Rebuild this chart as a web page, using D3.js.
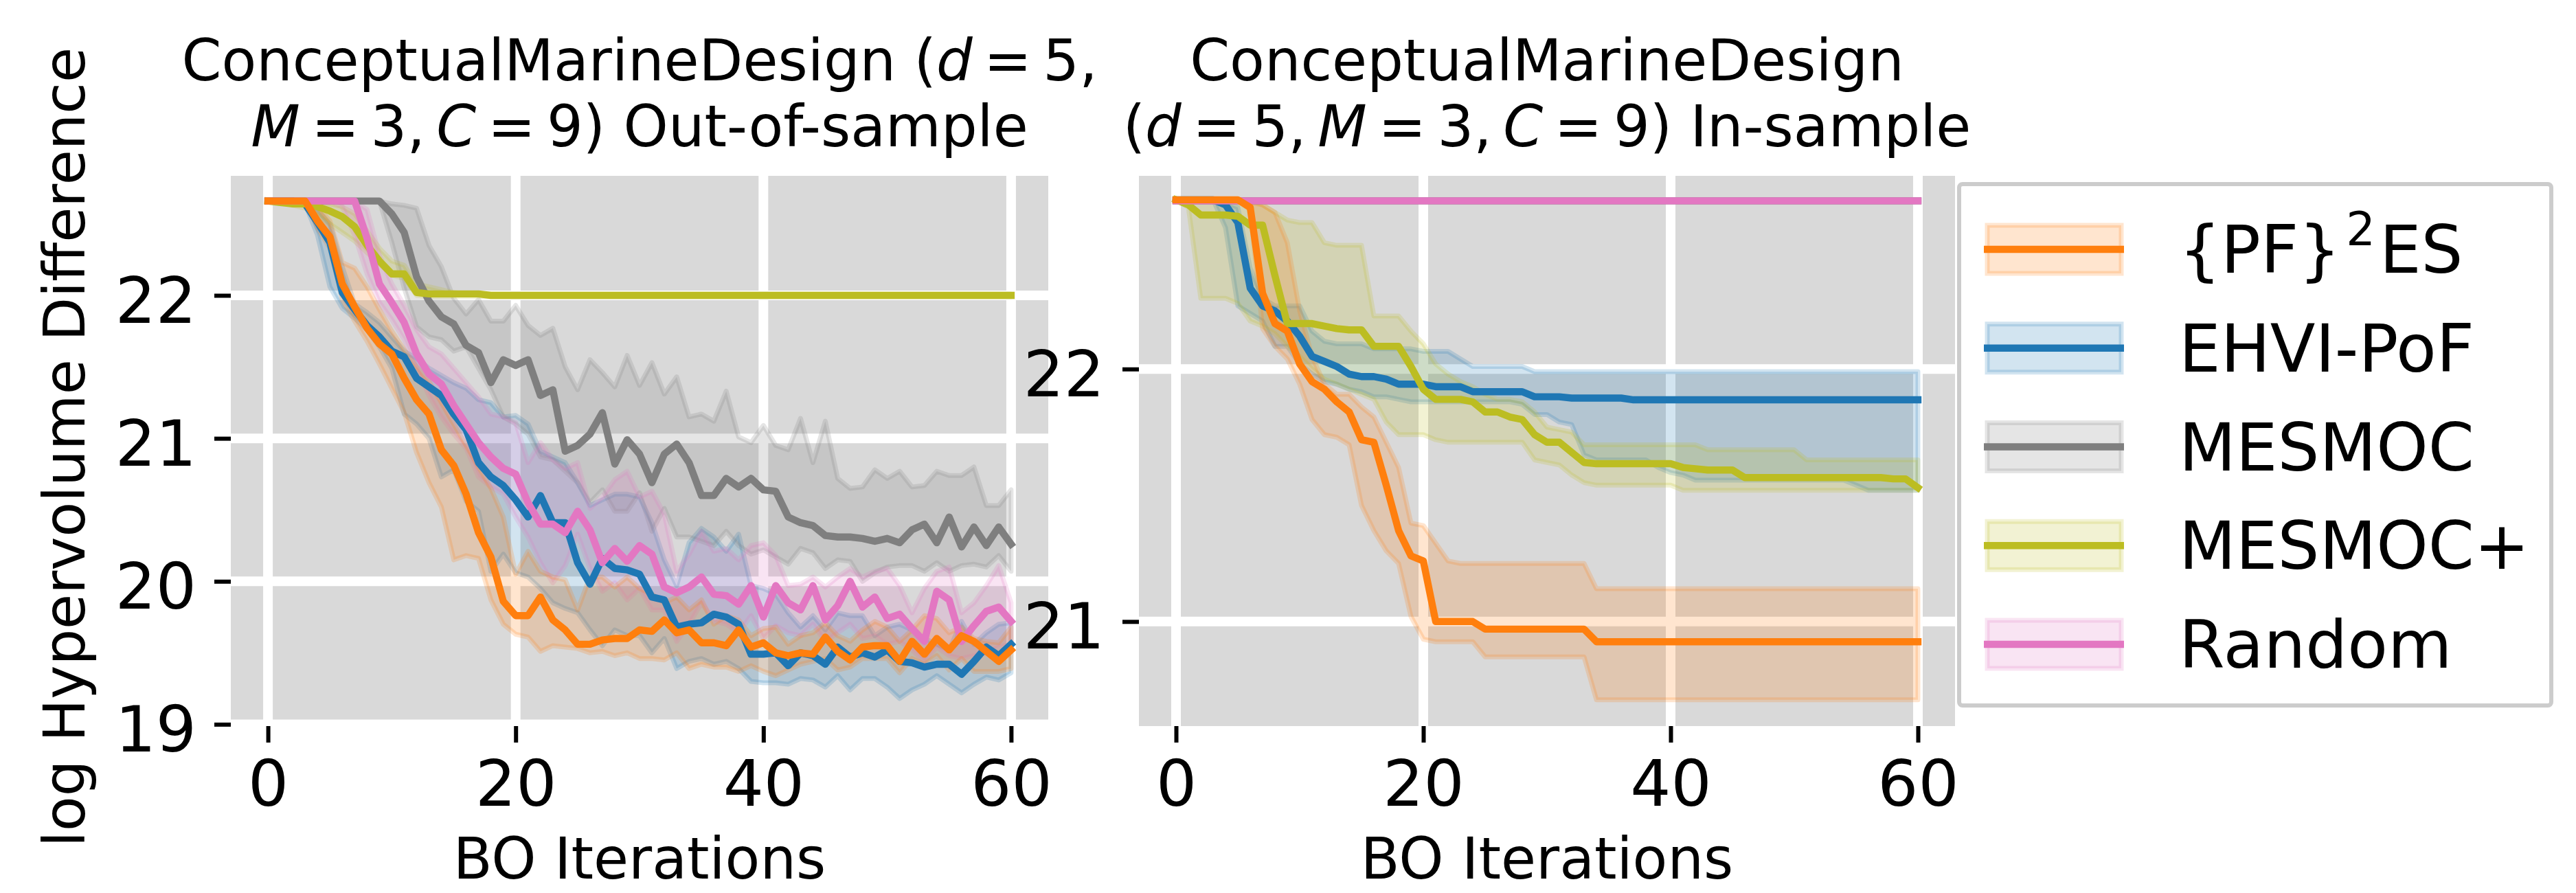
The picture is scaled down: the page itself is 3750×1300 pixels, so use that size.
<!DOCTYPE html>
<html>
<head>
<meta charset="utf-8">
<script src="https://cdn.jsdelivr.net/npm/d3@7"></script>
<style>
body { margin: 0; background: #fff; }
text { font-family: "DejaVu Sans", sans-serif; white-space: pre; }
</style>
</head>
<body>
<svg id="chart" width="3750" height="1300"></svg>
<script>
// x axis: BO iteration index 0..60
var iterations = d3.range(0, 61);
var xTicks = [0, 20, 40, 60];
var oosYTicks = [19, 20, 21, 22];
var insYTicks = [21, 22];

// ---- Out-of-sample panel ----
var oosPfesMean = [
22.66,22.66,22.66,22.66,22.52,22.41,22.08,21.92,21.77,21.66,
21.59,21.42,21.27,21.17,20.92,20.81,20.61,20.34,20.17,19.86,
19.76,19.76,19.89,19.73,19.66,19.56,19.56,19.59,19.60,19.60,
19.66,19.65,19.73,19.64,19.66,19.57,19.57,19.55,19.66,19.54,
19.57,19.50,19.48,19.50,19.49,19.61,19.51,19.45,19.54,19.55,
19.55,19.44,19.58,19.49,19.60,19.52,19.62,19.58,19.51,19.44,
19.52];
var oosPfesLo = [
22.66,22.66,22.66,22.66,22.47,22.33,21.97,21.82,21.68,21.52,
21.35,21.18,20.90,20.69,20.52,20.15,20.18,20.16,19.87,19.70,
19.63,19.61,19.51,19.55,19.54,19.53,19.50,19.51,19.48,19.50,
19.46,19.46,19.45,19.50,19.39,19.42,19.40,19.40,19.37,19.41,
19.37,19.34,19.38,19.42,19.44,19.46,19.38,19.40,19.46,19.46,
19.46,19.36,19.46,19.42,19.48,19.38,19.46,19.37,19.37,19.37,
19.39];
var oosPfesHi = [
22.66,22.66,22.66,22.66,22.62,22.52,22.23,22.19,22.06,21.90,
21.75,21.62,21.50,21.40,21.25,21.10,20.95,20.80,20.65,20.45,
20.05,20.21,20.07,20.03,20.01,19.80,20.03,20.03,19.96,20.03,
19.95,19.91,19.85,19.89,19.80,19.87,19.70,19.76,19.73,19.62,
19.67,19.68,19.56,19.62,19.64,19.71,19.62,19.58,19.66,19.72,
19.68,19.58,19.66,19.76,19.74,19.64,19.68,19.60,19.58,19.57,
19.68];

var oosEhviMean = [
22.66,22.66,22.66,22.64,22.51,22.37,22.02,21.90,21.79,21.71,
21.61,21.57,21.42,21.36,21.30,21.17,21.06,20.83,20.73,20.67,
20.57,20.45,20.60,20.41,20.41,20.13,19.98,20.16,20.09,20.08,
20.05,19.89,19.87,19.68,19.70,19.71,19.77,19.75,19.70,19.49,
19.49,19.50,19.41,19.50,19.48,19.42,19.54,19.47,19.50,19.47,
19.52,19.44,19.43,19.40,19.42,19.42,19.35,19.44,19.54,19.48,
19.56];
var oosEhviLo = [
22.66,22.66,22.66,22.64,22.42,22.06,21.91,21.84,21.76,21.64,
21.49,21.17,21.10,21.00,20.73,20.78,20.56,20.49,20.07,20.19,
20.06,20.03,19.95,19.85,19.81,19.78,19.66,19.55,19.66,19.62,
19.62,19.50,19.60,19.39,19.44,19.46,19.42,19.44,19.39,19.30,
19.29,19.29,19.28,19.32,19.31,19.26,19.34,19.24,19.32,19.32,
19.26,19.18,19.24,19.28,19.34,19.28,19.22,19.28,19.33,19.31,
19.36];
var oosEhviHi = [
22.66,22.66,22.66,22.66,22.60,22.50,22.20,21.94,21.88,21.81,
21.71,21.61,21.56,21.49,21.44,21.39,21.35,21.27,21.25,21.15,
21.16,21.10,20.91,20.87,20.83,20.69,20.53,20.57,20.61,20.61,
20.59,20.41,20.15,19.97,20.27,20.37,20.31,20.21,20.33,19.97,
19.95,19.91,19.78,19.68,19.76,19.66,19.78,19.76,19.76,19.62,
19.68,19.70,19.66,19.60,19.56,19.52,19.72,19.56,19.64,19.70,
19.71];

var oosMesmocMean = [
22.66,22.66,22.66,22.66,22.66,22.66,22.66,22.66,22.66,22.66,
22.57,22.44,22.13,21.96,21.85,21.80,21.65,21.60,21.39,21.55,
21.51,21.55,21.30,21.34,20.91,20.95,21.03,21.18,20.82,20.99,
20.89,20.69,20.89,20.96,20.83,20.60,20.60,20.72,20.66,20.72,
20.64,20.63,20.45,20.41,20.39,20.32,20.31,20.31,20.30,20.28,
20.30,20.27,20.36,20.40,20.27,20.45,20.24,20.38,20.25,20.38,
20.26];
var oosMesmocLo = [
22.66,22.66,22.66,22.66,22.66,22.66,22.66,22.66,22.66,22.66,
22.37,22.05,21.78,21.71,21.69,21.61,21.64,21.49,21.34,21.15,
21.10,21.03,20.87,20.85,20.77,20.69,20.55,20.64,20.49,20.49,
20.62,20.35,20.51,20.31,20.31,20.28,20.25,20.35,20.25,20.19,
20.22,20.17,20.12,20.23,20.20,20.09,20.15,20.14,20.00,20.06,
20.10,20.11,20.11,20.07,20.13,20.07,20.11,20.12,20.10,20.18,
20.07];
var oosMesmocHi = [
22.66,22.66,22.66,22.66,22.66,22.66,22.66,22.66,22.66,22.66,
22.64,22.63,22.61,22.35,22.20,21.98,21.87,21.97,21.82,21.82,
21.93,21.79,21.72,21.77,21.50,21.34,21.55,21.46,21.36,21.58,
21.37,21.53,21.31,21.43,21.15,21.17,21.12,21.33,21.01,20.97,
21.09,20.95,20.92,21.14,20.83,21.12,20.72,20.65,20.66,20.78,
20.72,20.77,20.66,20.67,20.77,20.74,20.74,20.80,20.53,20.53,
20.64];

var oosMesmocPlusMean = [
22.66,22.65,22.64,22.64,22.62,22.59,22.55,22.48,22.35,22.24,
22.15,22.15,22.02,22.01,22.01,22.01,22.01,22.01,22.00,22.00,
22.00,22.00,22.00,22.00,22.00,22.00,22.00,22.00,22.00,22.00,
22.00,22.00,22.00,22.00,22.00,22.00,22.00,22.00,22.00,22.00,
22.00,22.00,22.00,22.00,22.00,22.00,22.00,22.00,22.00,22.00,
22.00,22.00,22.00,22.00,22.00,22.00,22.00,22.00,22.00,22.00,
22.00];
var oosMesmocPlusLo = [
22.66,22.66,22.63,22.61,22.56,22.50,22.44,22.38,22.30,22.22,
22.14,22.12,22.00,21.99,21.99,21.99,21.99,21.99,21.99,21.99,
21.99,21.99,21.99,21.99,21.99,21.99,21.99,21.99,21.99,21.99,
21.99,21.99,21.99,21.99,21.99,21.99,21.99,21.99,21.99,21.99,
21.99,21.99,21.99,21.99,21.99,21.99,21.99,21.99,21.99,21.99,
21.99,21.99,21.99,21.99,21.99,21.99,21.99,21.99,21.99,21.99,
21.99];
var oosMesmocPlusHi = [
22.66,22.66,22.66,22.66,22.65,22.64,22.62,22.57,22.45,22.33,
22.24,22.21,22.08,22.06,22.04,22.02,22.01,22.01,22.01,22.01,
22.01,22.01,22.01,22.01,22.01,22.01,22.01,22.01,22.01,22.01,
22.01,22.01,22.01,22.01,22.01,22.01,22.01,22.01,22.01,22.01,
22.01,22.01,22.01,22.01,22.01,22.01,22.01,22.01,22.01,22.01,
22.01,22.01,22.01,22.01,22.01,22.01,22.01,22.01,22.01,22.01,
22.01];

var oosRandomMean = [
22.66,22.66,22.66,22.66,22.66,22.66,22.66,22.66,22.40,22.08,
21.95,21.81,21.59,21.45,21.38,21.23,21.10,20.97,20.87,20.79,
20.75,20.55,20.40,20.40,20.34,20.49,20.36,20.13,20.23,20.14,
20.25,20.19,19.96,19.92,19.96,20.03,19.91,19.90,19.84,19.97,
19.75,19.97,19.85,19.80,19.97,19.73,19.83,20.00,19.82,19.89,
19.74,19.77,19.67,19.58,19.93,19.87,19.58,19.69,19.79,19.82,
19.72];
var oosRandomLo = [
22.66,22.66,22.66,22.66,22.66,22.66,22.62,22.42,22.15,21.95,
21.83,21.69,21.49,21.30,21.15,21.03,20.93,20.73,20.66,20.61,
20.45,20.31,20.13,19.99,20.11,20.33,20.09,19.93,19.99,19.87,
19.95,19.80,19.80,19.58,19.70,19.85,19.72,19.70,19.64,19.76,
19.60,19.69,19.64,19.62,19.70,19.58,19.64,19.70,19.60,19.62,
19.56,19.58,19.52,19.44,19.54,19.48,19.46,19.48,19.50,19.54,
19.56];
var oosRandomHi = [
22.66,22.66,22.66,22.66,22.66,22.66,22.66,22.66,22.60,22.28,
22.08,21.93,21.76,21.64,21.59,21.49,21.39,21.29,21.17,21.15,
21.11,20.83,20.97,20.85,20.79,20.83,20.51,20.59,20.71,20.77,
20.59,20.63,20.47,20.07,20.19,20.35,20.21,20.23,20.15,20.25,
20.27,20.18,19.97,19.98,20.03,19.96,20.03,20.09,20.03,20.07,
20.09,19.97,19.78,19.95,20.07,20.10,19.78,19.85,19.97,20.11,
19.85];

// ---- In-sample panel ----
var insPfesMean = [
22.67,22.67,22.67,22.67,22.67,22.67,22.64,22.30,22.18,22.15,
22.02,21.95,21.92,21.87,21.83,21.72,21.71,21.54,21.36,21.26,
21.24,21.00,21.00,21.00,21.00,20.97,20.97,20.97,20.97,20.97,
20.97,20.97,20.97,20.97,20.92,20.92,20.92,20.92,20.92,20.92,
20.92,20.92,20.92,20.92,20.92,20.92,20.92,20.92,20.92,20.92,
20.92,20.92,20.92,20.92,20.92,20.92,20.92,20.92,20.92,20.92,
20.92];
var insPfesLo = [
22.67,22.67,22.67,22.67,22.67,22.67,22.63,22.16,22.09,22.04,
21.94,21.80,21.74,21.73,21.70,21.46,21.36,21.28,21.23,21.02,
20.93,20.92,20.92,20.92,20.92,20.86,20.86,20.86,20.86,20.86,
20.86,20.86,20.86,20.86,20.69,20.69,20.69,20.69,20.69,20.69,
20.69,20.69,20.69,20.69,20.69,20.69,20.69,20.69,20.69,20.69,
20.69,20.69,20.69,20.69,20.69,20.69,20.69,20.69,20.69,20.69,
20.69];
var insPfesHi = [
22.67,22.67,22.67,22.67,22.67,22.67,22.66,22.65,22.62,22.50,
22.23,22.05,21.94,21.90,21.90,21.85,21.81,21.71,21.61,21.39,
21.38,21.31,21.24,21.23,21.23,21.23,21.23,21.23,21.23,21.23,
21.23,21.23,21.23,21.23,21.13,21.13,21.13,21.13,21.13,21.13,
21.13,21.13,21.13,21.13,21.13,21.13,21.13,21.13,21.13,21.13,
21.13,21.13,21.13,21.13,21.13,21.13,21.13,21.13,21.13,21.13,
21.13];

var insEhviMean = [
22.67,22.67,22.67,22.67,22.65,22.58,22.32,22.25,22.23,22.19,
22.13,22.05,22.03,22.01,21.98,21.97,21.97,21.96,21.94,21.94,
21.94,21.93,21.93,21.93,21.91,21.91,21.91,21.91,21.91,21.89,
21.89,21.89,21.885,21.885,21.885,21.885,21.885,21.878,21.878,21.878,
21.878,21.878,21.878,21.878,21.878,21.878,21.878,21.878,21.878,21.878,
21.878,21.878,21.878,21.878,21.878,21.878,21.878,21.878,21.878,21.878,
21.878];
var insEhviLo = [
22.67,22.67,22.67,22.67,22.56,22.25,22.22,22.19,22.09,22.09,
22.02,21.98,21.95,21.94,21.92,21.91,21.89,21.89,21.88,21.87,
21.87,21.87,21.87,21.87,21.87,21.87,21.87,21.87,21.86,21.82,
21.82,21.79,21.78,21.66,21.64,21.64,21.64,21.64,21.64,21.61,
21.59,21.58,21.56,21.56,21.56,21.56,21.56,21.56,21.56,21.56,
21.56,21.56,21.56,21.56,21.56,21.54,21.52,21.52,21.52,21.52,
21.52];
var insEhviHi = [
22.67,22.67,22.67,22.67,22.66,22.64,22.40,22.28,22.25,22.25,
22.25,22.15,22.11,22.10,22.10,22.10,22.08,22.08,22.08,22.08,
22.07,22.07,22.07,22.04,22.01,22.01,22.01,22.01,22.01,21.99,
21.99,21.99,21.99,21.99,21.99,21.99,21.99,21.99,21.99,21.99,
21.99,21.99,21.99,21.99,21.99,21.99,21.99,21.99,21.99,21.99,
21.99,21.99,21.99,21.99,21.99,21.99,21.99,21.99,21.99,21.99,
21.99];

var insMesmocPlusMean = [
22.67,22.65,22.61,22.61,22.61,22.605,22.57,22.57,22.37,22.18,
22.18,22.18,22.17,22.16,22.155,22.155,22.09,22.09,22.09,22.01,
21.92,21.88,21.88,21.88,21.87,21.83,21.83,21.81,21.80,21.74,
21.71,21.71,21.67,21.63,21.625,21.625,21.625,21.625,21.625,21.625,
21.625,21.61,21.605,21.60,21.60,21.60,21.57,21.57,21.57,21.57,
21.57,21.57,21.57,21.57,21.57,21.57,21.57,21.57,21.565,21.565,
21.53];
var insMesmocPlusLo = [
22.67,22.64,22.28,22.28,22.28,22.26,22.19,22.17,22.14,22.09,
22.05,22.00,21.96,21.94,21.92,21.90,21.88,21.79,21.74,21.74,
21.74,21.72,21.71,21.71,21.71,21.71,21.71,21.71,21.71,21.64,
21.63,21.62,21.58,21.55,21.54,21.54,21.54,21.54,21.54,21.54,
21.54,21.52,21.52,21.52,21.52,21.52,21.52,21.52,21.52,21.52,
21.52,21.52,21.52,21.52,21.52,21.52,21.52,21.52,21.52,21.52,
21.52];
var insMesmocPlusHi = [
22.67,22.67,22.67,22.67,22.67,22.67,22.67,22.65,22.62,22.59,
22.58,22.58,22.50,22.49,22.49,22.49,22.21,22.21,22.21,22.15,
22.10,22.02,21.98,21.95,21.93,21.90,21.88,21.88,21.87,21.83,
21.77,21.76,21.75,21.70,21.70,21.70,21.70,21.70,21.70,21.70,
21.70,21.70,21.70,21.68,21.68,21.68,21.68,21.68,21.68,21.68,
21.68,21.64,21.64,21.64,21.64,21.64,21.64,21.64,21.64,21.64,
21.64];

// MESMOC and Random stay at the starting value in-sample (MESMOC sits under Random)
var insFlatTop = [
22.666,22.666,22.666,22.666,22.666,22.666,22.666,22.666,22.666,22.666,
22.666,22.666,22.666,22.666,22.666,22.666,22.666,22.666,22.666,22.666,
22.666,22.666,22.666,22.666,22.666,22.666,22.666,22.666,22.666,22.666,
22.666,22.666,22.666,22.666,22.666,22.666,22.666,22.666,22.666,22.666,
22.666,22.666,22.666,22.666,22.666,22.666,22.666,22.666,22.666,22.666,
22.666,22.666,22.666,22.666,22.666,22.666,22.666,22.666,22.666,22.666,
22.666];

var legendNames = ["{PF}ES", "EHVI-PoF", "MESMOC", "MESMOC+", "Random"];
var legendColors = ["#ff7f0e", "#1f77b4", "#7f7f7f", "#bcbd22", "#e377c2"];

var fig = d3.select("#chart");
fig.append("rect").attr("width", 3750).attr("height", 1300).attr("fill", "#fff");

var TS = "\u2009";  // thin space, like mathtext around "=" and after ","

var panels = [
	{
		id: "oos", left: 336, right: 1526, top: 256, bottom: 1057,
		yDomain: [18.9875, 22.836], yTicks: oosYTicks,
		title: [
			[["ConceptualMarineDesign (", 0], ["d", 1], [TS + "=" + TS + "5,", 0]],
			[["M", 1], [TS + "=" + TS + "3," + TS, 0], ["C", 1], [TS + "=" + TS + "9) Out-of-sample", 0]]
		],
		series: [
			{color: "#1f77b4", mean: oosEhviMean, lo: oosEhviLo, hi: oosEhviHi},
			{color: "#7f7f7f", mean: oosMesmocMean, lo: oosMesmocLo, hi: oosMesmocHi},
			{color: "#bcbd22", mean: oosMesmocPlusMean, lo: oosMesmocPlusLo, hi: oosMesmocPlusHi},
			{color: "#e377c2", mean: oosRandomMean, lo: oosRandomLo, hi: oosRandomHi},
			{color: "#ff7f0e", mean: oosPfesMean, lo: oosPfesLo, hi: oosPfesHi}
		]
	},
	{
		id: "ins", left: 1658, right: 2846, top: 256, bottom: 1057,
		yDomain: [20.586, 22.765], yTicks: insYTicks,
		title: [
			[["ConceptualMarineDesign", 0]],
			[["(", 0], ["d", 1], [TS + "=" + TS + "5," + TS, 0], ["M", 1], [TS + "=" + TS + "3," + TS, 0], ["C", 1], [TS + "=" + TS + "9) In-sample", 0]]
		],
		series: [
			{color: "#1f77b4", mean: insEhviMean, lo: insEhviLo, hi: insEhviHi},
			{color: "#7f7f7f", mean: insFlatTop, lo: insFlatTop, hi: insFlatTop},
			{color: "#bcbd22", mean: insMesmocPlusMean, lo: insMesmocPlusLo, hi: insMesmocPlusHi},
			{color: "#e377c2", mean: insFlatTop, lo: insFlatTop, hi: insFlatTop},
			{color: "#ff7f0e", mean: insPfesMean, lo: insPfesLo, hi: insPfesHi}
		]
	}
];

panels.forEach(drawPanel);
drawYLabel();
drawLegend();

function drawPanel(p)
{
	var x = d3.scaleLinear().domain([-3, 63]).range([p.left, p.right]);
	var y = d3.scaleLinear().domain(p.yDomain).range([p.bottom, p.top]);

	var clipId = p.id + "-clip";
	fig.append("clipPath").attr("id", clipId)
		.append("rect")
		.attr("x", p.left).attr("y", p.top)
		.attr("width", p.right - p.left).attr("height", p.bottom - p.top);

	var g = fig.append("g").attr("clip-path", "url(#" + clipId + ")");

	g.append("rect")
		.attr("x", p.left).attr("y", p.top)
		.attr("width", p.right - p.left).attr("height", p.bottom - p.top)
		.attr("fill", "#d9d9d9");

	// white grid under the data
	g.selectAll("line.hgrid").data(p.yTicks).enter().append("line")
		.attr("class", "hgrid")
		.attr("x1", p.left).attr("x2", p.right)
		.attr("y1", function(d) { return y(d); })
		.attr("y2", function(d) { return y(d); })
		.attr("stroke", "#fff").attr("stroke-width", 14);
	g.selectAll("line.vgrid").data(xTicks).enter().append("line")
		.attr("class", "vgrid")
		.attr("y1", p.top).attr("y2", p.bottom)
		.attr("x1", function(d) { return x(d); })
		.attr("x2", function(d) { return x(d); })
		.attr("stroke", "#fff").attr("stroke-width", 14);

	var area = d3.area()
		.x(function(d, i) { return x(iterations[i]); })
		.y0(function(d) { return y(d[0]); })
		.y1(function(d) { return y(d[1]); });
	var line = d3.line()
		.x(function(d, i) { return x(iterations[i]); })
		.y(function(d) { return y(d); });

	// bands first (fill_between sits below the lines)
	p.series.forEach(function(s) {
		var band = s.lo.map(function(v, i) { return [v, s.hi[i]]; });
		g.append("path")
			.attr("d", area(band))
			.attr("fill", s.color).attr("fill-opacity", 0.2)
			.attr("stroke", s.color).attr("stroke-opacity", 0.2)
			.attr("stroke-width", 7)
			.attr("stroke-linejoin", "round");
	});
	p.series.forEach(function(s) {
		g.append("path")
			.attr("d", line(s.mean))
			.attr("fill", "none")
			.attr("stroke", s.color)
			.attr("stroke-width", 10.4)
			.attr("stroke-linejoin", "round")
			.attr("stroke-linecap", "square");
	});

	var xAxis = d3.axisBottom(x).tickValues(xTicks).tickFormat(d3.format("d"))
		.tickSize(24).tickPadding(26);
	var ax = fig.append("g").attr("transform", "translate(0," + p.bottom + ")").call(xAxis);
	styleAxis(ax);

	var yAxis = d3.axisLeft(y).tickValues(p.yTicks).tickFormat(d3.format("d"))
		.tickSize(24).tickPadding(26);
	var ay = fig.append("g").attr("transform", "translate(" + p.left + ",0)").call(yAxis);
	styleAxis(ay);
	ay.selectAll("text").attr("dy", "0.42em");

	fig.append("text")
		.attr("x", (p.left + p.right) / 2).attr("y", 1279)
		.attr("text-anchor", "middle")
		.attr("font-size", 83)
		.text("BO Iterations");

	var cx = (p.left + p.right) / 2;
	p.title.forEach(function(parts, k) {
		var t = fig.append("text")
			.attr("x", cx).attr("y", 117 + k * 96)
			.attr("text-anchor", "middle")
			.attr("font-size", 83);
		parts.forEach(function(part) {
			t.append("tspan")
				.attr("font-style", part[1] ? "italic" : "normal")
				.text(part[0]);
		});
	});
}

function styleAxis(a)
{
	a.select(".domain").remove();
	a.selectAll(".tick line").attr("stroke", "#000").attr("stroke-width", 6);
	a.selectAll(".tick text")
		.attr("fill", "#000")
		.attr("font-size", 93)
		.attr("font-family", "DejaVu Sans");
}

function drawYLabel()
{
	fig.append("text")
		.attr("transform", "translate(123,651) rotate(-90)")
		.attr("text-anchor", "middle")
		.attr("font-size", 83)
		.text("log Hypervolume Difference");
}

function drawLegend()
{
	var lg = fig.append("g");
	lg.append("rect")
		.attr("x", 2852).attr("y", 268)
		.attr("width", 862).attr("height", 759)
		.attr("rx", 5)
		.attr("fill", "#fff")
		.attr("stroke", "#cccccc")
		.attr("stroke-width", 6);

	var rowY = d3.scaleLinear().domain([0, 4]).range([363, 938]);
	legendNames.forEach(function(name, i) {
		var cy = rowY(i);
		var c = legendColors[i];
		lg.append("rect")
			.attr("x", 2893).attr("y", cy - 35)
			.attr("width", 195).attr("height", 70)
			.attr("fill", c).attr("fill-opacity", 0.2)
			.attr("stroke", c).attr("stroke-opacity", 0.2)
			.attr("stroke-width", 7);
		lg.append("line")
			.attr("x1", 2888).attr("x2", 3092)
			.attr("y1", cy).attr("y2", cy)
			.attr("stroke", c).attr("stroke-width", 10.4);

		var t = lg.append("text")
			.attr("x", 3172).attr("y", cy + 34)
			.attr("font-size", 96);
		if (i == 0) {
			t.append("tspan").text("{PF}");
			t.append("tspan").attr("font-size", 67).attr("dy", -40).attr("dx", 8).text("2");
			t.append("tspan").attr("dy", 40).attr("dx", 6).text("ES");
		}
		else
			t.text(name);
	});
}
</script>
</body>
</html>
